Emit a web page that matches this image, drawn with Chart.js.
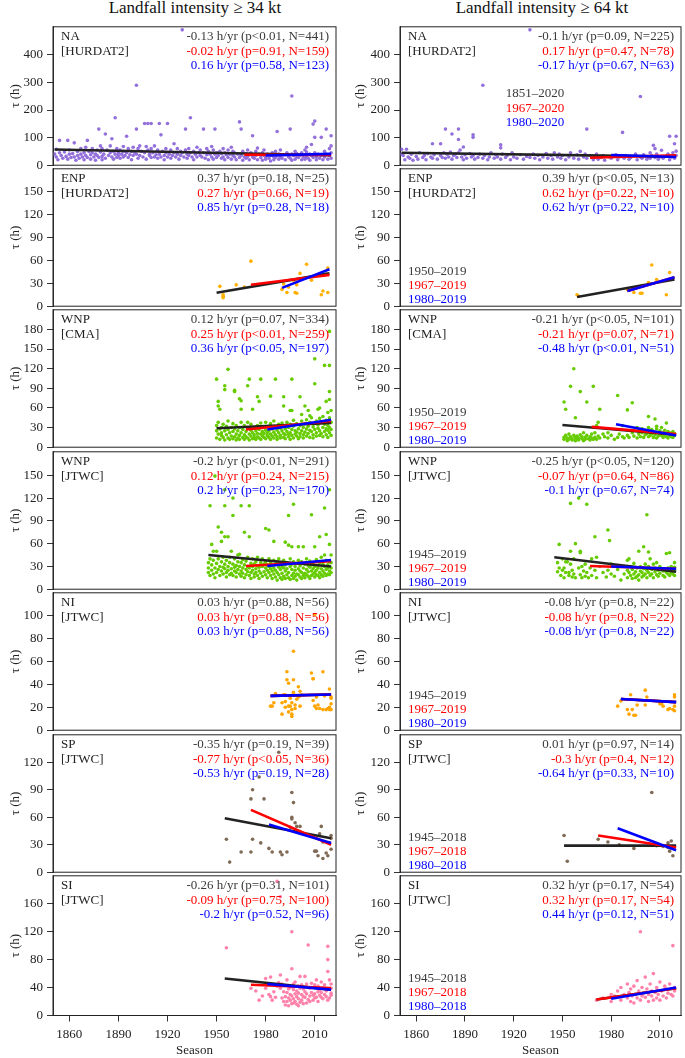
<!DOCTYPE html>
<html>
<head>
<meta charset="utf-8">
<script src="https://cdn.jsdelivr.net/npm/chart.js@4.4.0/dist/chart.umd.min.js"></script>
<style>
  body { margin: 0; background: #fff; width: 685px; height: 1058px; position: relative; overflow: hidden; font-family: "Liberation Serif", serif; }
  canvas { position: absolute; }
  .title { position: absolute; top: -1px; font-size: 17px; line-height: 17px; color: #111; text-align: center; }
</style>
</head>
<body>
<div class="title" style="left:53px;width:284px">Landfall intensity ≥ 34 kt</div>
<div class="title" style="left:400px;width:284px">Landfall intensity ≥ 64 kt</div>
<script>
// x axis
const xTicks = [1860, 1890, 1920, 1950, 1980, 2010];

// y tick labels per basin
const yTicksNA = [0, 100, 200, 300, 400];
const yTicksENP = [0, 30, 60, 90, 120, 150];
const yTicksCMA = [0, 30, 60, 90, 120, 150, 180];
const yTicksJTWC = [0, 30, 60, 90, 120, 150];
const yTicksNI = [0, 20, 40, 60, 80, 100];
const yTicksSP = [0, 30, 60, 90, 120];
const yTicksSI = [0, 40, 80, 120, 160];

// scatter values: [season, tau, tau, ...]
const na34 = [[1851,40],[1852,30,58],[1853,20],[1854,90,45],[1855,35],[1856,25],[1857,48],[1858,32],[1859,90,22],[1860,40,55],
  [1861,28],[1862,42],[1863,81,30],[1864,18],[1865,50,35],[1866,25],[1867,60,40],[1868,30],[1869,45,20],[1870,35,65],
  [1871,90,28],[1872,50],[1873,38,22],[1874,60,45],[1875,30],[1876,40,18],[1877,55,35],[1878,131,28],[1879,48,70],[1880,32,60,20],
  [1881,40],[1882,113,25],[1883,55],[1884,35],[1885,70,45],[1886,96,30],[1887,50,22],[1888,172,40],[1889,60,28],[1890,45,35],
  [1891,55,25],[1892,40],[1893,68,30,50],[1894,35],[1895,105,45],[1896,28,60],[1897,38],[1898,50,20],[1899,65,35],[1900,45],
  [1901,290,131,40],[1902,60,25],[1903,70,35],[1904,50],[1905,30],[1906,151,45],[1907,68,22],[1908,151,55],[1909,35,40],[1910,151,28,60],
  [1911,45],[1912,30,70],[1913,38],[1914,55,25],[1915,151,40],[1916,110,30],[1917,50],[1918,35,20],[1919,60,45],[1920,151,30],
  [1921,40],[1922,55,25],[1923,35],[1924,78,45],[1925,30],[1926,60,40],[1927,22],[1928,50,35],[1929,491,45],[1930,30],
  [1931,131,55],[1932,40,25],[1933,60,35],[1934,172,45],[1935,30],[1936,50,20],[1937,40],[1938,65,30],[1939,45],[1940,35,55],
  [1941,30],[1942,131,45],[1943,25],[1944,60,38],[1945,50,20],[1946,40],[1947,68,30],[1948,55,22],[1949,131,40],[1950,45,28],
  [1951,35],[1952,50],[1953,25,42],[1954,60,30],[1955,45,20],[1956,38],[1957,55,28],[1958,40],[1959,65,22],[1960,35,50],
  [1961,30,45],[1962,20],[1963,40],[1964,157,28],[1965,131,35],[1966,50,18],[1967,30],[1968,42,25],[1969,55,32],[1970,38,20],
  [1971,45],[1972,107,30],[1973,25],[1974,50,35],[1975,20,62],[1976,40],[1977,28],[1978,45,18],[1979,35,55],[1980,30,22],
  [1981,40],[1982,25],[1983,35,15],[1984,45],[1985,30,20],[1986,50,28],[1987,122,35],[1988,22,40],[1989,30,55],[1990,25],
  [1991,38],[1992,20],[1993,45],[1994,30],[1995,131,25],[1996,251,40,18],[1997,35],[1998,50,22],[1999,30,42],[2000,28],
  [2001,35],[2002,20,45],[2003,30],[2004,55,38,22],[2005,48,30,65],[2006,25],[2007,40,18],[2008,75,35],[2009,149,28],[2010,160,101,45],
  [2011,30,20],[2012,40],[2013,25],[2014,101,35],[2015,20],[2016,50,30],[2017,131,40],[2018,22],[2019,60,35],[2020,107,45,25,70]];
const na64 = [[1851,58,40],[1852,35],[1853,20],[1854,58],[1855,30],[1856,25],[1857,40],[1858,18],[1860,32],[1861,22],[1862,45],[1864,28],
  [1865,35],[1866,20],[1867,42],[1869,30],[1870,78,25],[1871,38],[1873,22],[1875,78,35],[1876,28],[1877,45],[1878,131,25],[1879,40],
  [1880,30],[1881,48],[1882,113,22],[1883,35],[1884,40],[1885,28],[1886,131,93,45],[1887,55],[1888,30],[1889,66,20],[1890,38],[1891,25],
  [1893,42],[1894,30],[1895,110,101,35],[1896,22],[1898,28],[1899,40],[1901,290,25],[1902,35],[1904,20],[1905,30],[1906,45],[1908,25],
  [1909,38],[1910,30],[1912,74,63,22],[1913,40],[1915,28],[1916,35],[1918,20],[1919,45],[1920,30],[1922,25],[1924,38],[1926,22],
  [1928,32],[1930,491,28],[1932,40],[1933,25],[1935,35],[1936,20],[1938,30],[1940,42],[1941,25],[1943,35],[1944,22],[1945,45],
  [1947,30],[1948,40],[1949,25],[1950,35],[1952,20],[1954,30],[1955,45],[1957,25],[1959,38],[1960,22],[1961,50],[1963,30],
  [1964,40],[1965,131,25],[1967,35],[1969,20],[1970,30],[1971,40],[1972,22],[1974,28],[1975,35],[1976,18],[1979,30],[1980,25],
  [1983,38],[1984,20],[1985,30],[1987,119],[1988,25],[1989,35],[1991,22],[1992,28],[1995,40],[1996,20],[1998,249,30],[1999,25],
  [2000,38],[2002,22],[2003,30],[2004,45,25],[2005,35],[2006,72],[2007,60,28],[2008,40],[2009,22],[2010,30],[2011,54],[2012,25],
  [2015,40],[2016,105,20],[2017,30],[2018,45],[2019,78,25],[2020,105,51,35]];
const enp34 = [[1952,26],[1954,15,13,11],[1962,28],[1967,25],[1971,59],[1990,22],[1991,29],[1993,18],[1994,25],[1997,34],[1998,18],
  [1999,17,28],[2001,43],[2005,55],[2008,34],[2010,40],[2014,15],[2015,20],[2017,42],[2018,18,50]];
const enp64 = [[1959,15],[1960,13],[1990,22],[1993,24],[1994,18],[1998,17],[1999,17,27],[2003,31],[2005,54],[2008,35],[2014,15],[2016,44]];
const cma34 = [[1950,14,25,33,104],[1951,20,38,70,63],[1952,12,28,58],[1953,18,30,22],[1954,15,35],[1955,25,11,94,88],[1956,19,32],
  [1957,14,27,40,119],[1958,22,12],[1959,17,30],[1960,24,13,36],[1961,16,28,85,87],[1962,20,11,33],[1963,14,25],[1964,18,30,12,74],
  [1965,22,38,71,58],[1966,15,27],[1967,19,12,33],[1968,24,16],[1969,14,29,38,94],[1970,20,11,104],[1971,17,26,35],[1972,13,22,58],
  [1973,19,30,15],[1974,25,12],[1975,16,33,21,77],[1976,14,27,70],[1977,20,37,12,104],[1978,17,24],[1979,15,30,21],[1980,13,26,38],
  [1981,18,22],[1982,15,32,25],[1983,20,12,36,78],[1984,17,28],[1985,14,23,40],[1986,19,31,104],[1987,16,26,12],[1988,22,35],
  [1989,18,14,29],[1990,25,37],[1991,15,21,33,77,63],[1992,19,28,13],[1993,24,38],[1994,16,30,20],[1995,22,12,35,56],[1996,18,27,104,56],
  [1997,14,32,41],[1998,20,25],[1999,17,36,23],[2000,28,13],[2001,21,33,16,77],[2002,25,40,50],[2003,19,30,14],[2004,23,36,63],
  [2005,17,28,42],[2006,21,32,56],[2007,15,26,38,48],[2008,24,45],[2009,19,31,14],[2010,27,36,135,97],[2011,22,17,40],[2012,29,34,58],
  [2013,18,25,44,60],[2014,21,38],[2015,16,30,47],[2016,24,35,125],[2017,19,28,41,70],[2018,26,33,15,53],[2019,22,30,45,125,177,85,73],
  [2020,18,27,38,56]];
const cma64 = [[1951,69,15,12],[1952,58,18],[1953,10,14],[1954,20,12],[1955,93,16],[1956,11,13],[1957,120,18],[1958,45,10,15],
  [1959,12,17],[1960,14,11],[1961,85,19],[1962,13,16],[1963,10,22],[1964,15,12],[1965,69,18],[1966,13],[1967,11,16],[1968,20,14],
  [1969,93,12],[1970,15,22],[1971,33,12],[1972,38,17],[1973,58,14],[1975,20],[1976,16],[1978,14,22],[1980,18],[1982,12],[1984,79,15],
  [1985,20],[1987,16,33],[1988,14],[1990,57,18],[1991,15],[1993,68,22],[1994,17],[1996,30,14],[1997,20,25],[1998,16],[1999,22,28],
  [2000,15],[2001,26,19],[2002,21],[2003,47,16,30],[2004,23,18],[2005,20,27],[2006,15,24],[2007,43,19],[2008,32,28,14],[2009,22,17],
  [2010,25,20],[2011,18,30],[2012,15,22],[2013,26,19],[2014,37,16,21],[2015,24,14],[2016,18,22],[2017,20,16],[2018,15,24],[2019,21,18]];
const jtwc34 = [[1945,22,35,28],[1946,110,40,18],[1947,59,25,32],[1948,50,20,38],[1949,149,28,15],[1950,50,34,22],[1951,82,26,40],
  [1952,18,30],[1953,75,63,24,36],[1954,20,42,29],[1955,131,110,69,27,33],[1956,22,38,16],[1957,69,30,25],[1958,19,35,42],[1959,50,27,21],
  [1960,120,97,33,18],[1961,24,40,29],[1962,16,31,22],[1963,36,26,45],[1964,46,20,30],[1965,110,17,35,24],[1966,28,39,21],[1967,75,15,32],
  [1968,26,37,19],[1969,23,30,42],[1970,110,69,18,28],[1971,34,22,14],[1972,25,40,30],[1973,20,33,16],[1974,27,36,22],[1975,18,31,42],
  [1976,24,29,14],[1977,35,21],[1978,30,17,40],[1979,23,33],[1980,80,19,28,36],[1981,25,15,32],[1982,78,30,22,40],[1983,18,27,35],
  [1984,24,14,31],[1985,63,20,38,28],[1986,16,33,25],[1987,22,12,36],[1988,29,19,40],[1989,15,26,34],[1990,21,13,30],[1991,28,17,38],
  [1992,62,14,24,32],[1993,19,35,27],[1994,97,58,15,22],[1995,30,13,40],[1996,56,18,26,33],[1997,112,14,21,36],[1998,25,17,30],
  [1999,20,12,34],[2000,56,27,19,38],[2001,16,24,31],[2002,22,14,36],[2003,56,28,18],[2004,33,21,15],[2005,26,40,19],[2006,17,31,23],
  [2007,29,14,37],[2008,98,24,18,32],[2009,20,35,27],[2010,56,16,30,22],[2011,25,39,19],[2012,31,18,28],[2013,69,22,35,15],
  [2014,27,19,42],[2015,33,24,17],[2016,107,21,30,45],[2017,72,26,18,38],[2018,32,20,28],[2019,131,59,24,36,19],[2020,45,28,22,35]];
const jtwc64 = [[1947,23,35],[1948,59,28],[1949,18],[1950,40,25],[1951,28,15],[1952,36,22],[1953,36],[1954,22,18],[1955,113,50,33],
  [1956,25,16],[1957,40,20],[1958,60,15],[1960,120,28],[1961,50,48,19],[1962,30,15],[1963,24],[1964,17,33],[1965,112,22],[1966,15],
  [1967,28],[1968,40,18],[1970,69,25],[1971,42,15],[1973,30],[1975,22],[1977,16],[1978,78,25],[1979,64],[1980,20,33],[1982,17],
  [1984,26],[1986,12,30],[1988,20],[1990,38,15,25],[1991,40,22],[1992,18,30],[1993,14,26],[1994,20,34],[1995,15,23],[1996,28,17],
  [1997,50,19,12],[1998,24,30],[1999,16,22],[2000,56,27,18],[2001,33,20],[2002,98,15,25],[2003,49,22,30],[2004,18,40],[2005,26,20],
  [2006,15,33],[2007,23,28],[2008,19,35],[2009,25,17],[2010,30,21],[2012,24,18],[2013,16,27],[2014,47,22],[2015,20,28],
  [2016,48,18,25],[2017,22,30],[2018,20,26],[2019,18,29,35,24]];
const ni34 = [[1983,21],[1984,21],[1985,24],[1986,32],[1990,24,14],[1991,31],[1992,25,20,31],[1993,51,44],[1994,41,16,21],[1995,21,28],
  [1996,24,18,14,12],[1997,69,33,32,44],[1998,19,22],[1999,27],[2000,38,29],[2001,30,34,21],[2002,31],[2008,50],[2009,45,45,26],
  [2010,21,101],[2011,19,29],[2012,22],[2013,19],[2015,51,18],[2016,30],[2017,18],[2018,19],[2019,18,36,20],[2020,29,28,18,23]];
const ni64 = [[1984,21],[1986,25.5],[1990,18],[1991,14],[1992,31],[1993,18],[1994,13],[1995,13],[1996,22],[2001,35,22],[2002,29],
  [2010,23],[2011,23],[2012,21],[2015,18],[2016,19],[2018,18],[2019,29,31,21,17]];
const sp34 = [[1956,36],[1958,11],[1965,22],[1971,22,80],[1972,90,36],[1976,104],[1977,32],[1979,80],[1982,26],[1984,22],[1988,131],
  [1989,22],[1990,19],[1993,22],[1995,49],[1996,58,60,87],[1997,76],[1998,54],[1999,50],[2001,50],[2010,23],[2011,23],[2012,18],
  [2013,42],[2014,50],[2015,33,15],[2017,21],[2018,18],[2019,32],[2020,37,25,40]];
const sp64 = [[1951,40],[1953,12],[1978,33],[1994,26],[2005,87],[2015,27,32],[2016,23],[2017,34],[2018,18],[1972,36],[1985,30],
  [2008,29],[2012,28]];
const si34 = [[1956,97],[1971,39],[1974,35],[1976,22],[1978,28],[1980,39,53],[1981,44],[1982,30],[1983,27,55],[1984,22],[1985,34],
  [1986,26],[1987,42,192],[1988,47],[1989,58,39,170],[1990,25,45],[1991,34,20],[1992,15,27],[1993,51,20,33],[1994,14,25,38],[1995,40,22,30],
  [1996,67,120,17,28],[1997,18,37,24,45],[1998,48,20,31],[1999,27,35,16],[2000,14,32,42,24],[2001,56,39,19],[2002,44,22,30],
  [2003,27,38,17],[2004,56,34,26],[2005,18,31,45],[2006,101,23],[2007,39,28,20],[2008,46,33],[2009,29,40,22],[2010,25,31,44],
  [2011,51,26],[2012,34,20,42],[2013,29,37],[2014,26,33,48],[2015,39,24],[2016,44,30],[2017,27,35],[2018,22,99,80,63],[2019,51,25],
  [2020,29,39,32,45]];
const si64 = [[1971,22],[1975,25],[1980,30,20],[1982,28],[1984,35],[1986,22,40],[1988,30],[1990,25,45],[1991,33],[1992,20,38],
  [1993,28],[1994,42,18],[1995,30],[1996,50,25],[1997,35],[1998,120,22],[1999,40,28],[2000,32],[2001,55,26],[2002,38],[2003,30,20],
  [2004,45],[2005,28,35],[2006,60,22],[2007,33],[2008,40,25],[2009,30],[2010,48,22],[2011,35],[2012,28],[2013,42],[2014,25,38],
  [2015,32],[2016,45],[2017,30],[2018,100,28],[2019,40,35]];

// trend lines: [startSeason, startTau, endSeason, endTau] for full / 1967 / 1980 periods
const na34Trend = [[1851,57,2020,36],[1967,38,2020,37],[1980,35,2020,41]];
const na64Trend = [[1851,45,2020,31],[1967,27,2020,36],[1980,37,2020,30]];
const enp34Trend = [[1950,17.5,2019,43],[1971,28,2019,41],[1990,24,2019,48.5]];
const enp64Trend = [[1959,12,2019,35],[1990,20,2019,38],[1990,20,2019,38]];
const cma34Trend = [[1950,29,2020,37],[1968,27,2020,40],[1981,27,2020,42]];
const cma64Trend = [[1950,34,2020,19],[1968,31,2020,20],[1983,35,2020,18]];
const jtwc34Trend = [[1945,45,2020,30],[1968,30.5,2020,37],[1981,30.5,2020,38.5]];
const jtwc64Trend = [[1945,42,2020,23],[1967,30.5,2020,27],[1980,30,2020,27]];
const ni34Trend = [[1983,30,2020,31.2],[1983,30,2020,31.2],[1983,30,2020,31.2]];
const ni64Trend = [[1986,27.2,2020,24.5],[1986,27.2,2020,24.5],[1986,27.2,2020,24.5]];
const sp34Trend = [[1955,59,2020,37],[1971,68,2020,30],[1982,52,2020,32]];
const sp64Trend = [[1951,29,2020,29],[1972,40,2020,27],[1984,48,2020,24]];
const si34Trend = [[1955,53,2020,37],[1971,44,2020,39.3],[1981,45,2020,37]];
const si64Trend = [[1971,23,2020,39],[1971,23,2020,39],[1980,24,2020,40]];

// annotation texts
const na34Stats = ['-0.13 h/yr (p<0.01, N=441)', '-0.02 h/yr (p=0.91, N=159)', '0.16 h/yr (p=0.58, N=123)'];
const na64Stats = ['-0.1 h/yr (p=0.09, N=225)', '0.17 h/yr (p=0.47, N=78)', '-0.17 h/yr (p=0.67, N=63)'];
const enp34Stats = ['0.37 h/yr (p=0.18, N=25)', '0.27 h/yr (p=0.66, N=19)', '0.85 h/yr (p=0.28, N=18)'];
const enp64Stats = ['0.39 h/yr (p<0.05, N=13)', '0.62 h/yr (p=0.22, N=10)', '0.62 h/yr (p=0.22, N=10)'];
const cma34Stats = ['0.12 h/yr (p=0.07, N=334)', '0.25 h/yr (p<0.01, N=259)', '0.36 h/yr (p<0.05, N=197)'];
const cma64Stats = ['-0.21 h/yr (p<0.05, N=101)', '-0.21 h/yr (p=0.07, N=71)', '-0.48 h/yr (p<0.01, N=51)'];
const jtwc34Stats = ['-0.2 h/yr (p<0.01, N=291)', '0.12 h/yr (p=0.24, N=215)', '0.2 h/yr (p=0.23, N=170)'];
const jtwc64Stats = ['-0.25 h/yr (p<0.05, N=120)', '-0.07 h/yr (p=0.64, N=86)', '-0.1 h/yr (p=0.67, N=74)'];
const ni34Stats = ['0.03 h/yr (p=0.88, N=56)', '0.03 h/yr (p=0.88, N=56)', '0.03 h/yr (p=0.88, N=56)'];
const ni64Stats = ['-0.08 h/yr (p=0.8, N=22)', '-0.08 h/yr (p=0.8, N=22)', '-0.08 h/yr (p=0.8, N=22)'];
const sp34Stats = ['-0.35 h/yr (p=0.19, N=39)', '-0.77 h/yr (p<0.05, N=36)', '-0.53 h/yr (p=0.19, N=28)'];
const sp64Stats = ['0.01 h/yr (p=0.97, N=14)', '-0.3 h/yr (p=0.4, N=12)', '-0.64 h/yr (p=0.33, N=10)'];
const si34Stats = ['-0.26 h/yr (p=0.31, N=101)', '-0.09 h/yr (p=0.75, N=100)', '-0.2 h/yr (p=0.52, N=96)'];
const si64Stats = ['0.32 h/yr (p=0.17, N=54)', '0.32 h/yr (p=0.17, N=54)', '0.44 h/yr (p=0.12, N=51)'];

const textCols = ['#3a3a3a', '#ff0000', '#0000ff'];
const lineCols = ['#222222', '#ff0000', '#0000ff'];

const rowTops = [25, 167, 308, 449.5, 591, 732.5, 874, 1015.5];

const panels = [
  { row: 0, col: 0, pts: na34, trend: na34Trend, yTicks: yTicksNA, ymax: 502, color: '#9370DB', region: 'NA', src: '[HURDAT2]', stats: na34Stats },
  { row: 0, col: 1, pts: na64, trend: na64Trend, yTicks: yTicksNA, ymax: 502, color: '#9370DB', region: 'NA', src: '[HURDAT2]', stats: na64Stats,
    periods: ['1851–2020', '1967–2020', '1980–2020'], periodsCenter: true },
  { row: 1, col: 0, pts: enp34, trend: enp34Trend, yTicks: yTicksENP, ymax: 180, color: '#FFB000', region: 'ENP', src: '[HURDAT2]', stats: enp34Stats },
  { row: 1, col: 1, pts: enp64, trend: enp64Trend, yTicks: yTicksENP, ymax: 180, color: '#FFB000', region: 'ENP', src: '[HURDAT2]', stats: enp64Stats,
    periods: ['1950–2019', '1967–2019', '1980–2019'] },
  { row: 2, col: 0, pts: cma34, trend: cma34Trend, yTicks: yTicksCMA, ymax: 210, color: '#66CC00', region: 'WNP', src: '[CMA]', stats: cma34Stats },
  { row: 2, col: 1, pts: cma64, trend: cma64Trend, yTicks: yTicksCMA, ymax: 210, color: '#66CC00', region: 'WNP', src: '[CMA]', stats: cma64Stats,
    periods: ['1950–2019', '1967–2019', '1980–2019'] },
  { row: 3, col: 0, pts: jtwc34, trend: jtwc34Trend, yTicks: yTicksJTWC, ymax: 181, color: '#66CC00', region: 'WNP', src: '[JTWC]', stats: jtwc34Stats },
  { row: 3, col: 1, pts: jtwc64, trend: jtwc64Trend, yTicks: yTicksJTWC, ymax: 181, color: '#66CC00', region: 'WNP', src: '[JTWC]', stats: jtwc64Stats,
    periods: ['1945–2019', '1967–2019', '1980–2019'] },
  { row: 4, col: 0, pts: ni34, trend: ni34Trend, yTicks: yTicksNI, ymax: 120, color: '#FFA500', region: 'NI', src: '[JTWC]', stats: ni34Stats },
  { row: 4, col: 1, pts: ni64, trend: ni64Trend, yTicks: yTicksNI, ymax: 120, color: '#FFA500', region: 'NI', src: '[JTWC]', stats: ni64Stats,
    periods: ['1945–2019', '1967–2019', '1980–2019'] },
  { row: 5, col: 0, pts: sp34, trend: sp34Trend, yTicks: yTicksSP, ymax: 150, color: '#7F6A55', region: 'SP', src: '[JTWC]', stats: sp34Stats },
  { row: 5, col: 1, pts: sp64, trend: sp64Trend, yTicks: yTicksSP, ymax: 150, color: '#7F6A55', region: 'SP', src: '[JTWC]', stats: sp64Stats,
    periods: ['1945–2018', '1967–2018', '1980–2018'] },
  { row: 6, col: 0, pts: si34, trend: si34Trend, yTicks: yTicksSI, ymax: 200, color: '#FF82AB', region: 'SI', src: '[JTWC]', stats: si34Stats },
  { row: 6, col: 1, pts: si64, trend: si64Trend, yTicks: yTicksSI, ymax: 200, color: '#FF82AB', region: 'SI', src: '[JTWC]', stats: si64Stats,
    periods: ['1945–2018', '1967–2018', '1980–2018'] }
];

const serif = '"Liberation Serif", "Times New Roman", serif';

// box around each panel plus the text inside it
const panelDeco = {
  id: 'panelDeco',
  afterDatasetsDraw(chart, args, o) {
    const ctx = chart.ctx, a = chart.chartArea;
    ctx.save();
    ctx.strokeStyle = '#222';
    ctx.lineWidth = 1;
    ctx.strokeRect(a.left, a.top, a.right - a.left, a.bottom - a.top);
    ctx.font = '13px ' + serif;
    ctx.textBaseline = 'middle';
    ctx.textAlign = 'left';
    ctx.fillStyle = '#222';
    ctx.fillText(o.region, a.left + 8, a.top + 10);
    ctx.fillText(o.src, a.left + 8, a.top + 24.5);
    ctx.textAlign = 'right';
    o.stats.forEach((s, i) => {
      ctx.fillStyle = textCols[i];
      ctx.fillText(s, a.right - 7, a.top + 10 + i * 14.3);
    });
    if (o.periods) {
      o.periods.forEach((s, i) => {
        ctx.fillStyle = textCols[i];
        if (o.periodsCenter) {
          ctx.textAlign = 'center';
          ctx.fillText(s, a.left + 135, a.top + 67 + i * 14.5);
        } else {
          ctx.textAlign = 'left';
          ctx.fillText(s, a.left + 8, a.top + 103 + i * 14);
        }
      });
    }
    ctx.restore();
  }
};

panels.forEach(p => {
  const bottomRow = p.row === 6;
  const top = rowTops[p.row], h = rowTops[p.row + 1] - top;
  const cvTop = top - 10;
  const cvH = bottomRow ? 1058 - cvTop : h + 20;
  const cvLeft = p.col === 0 ? 0 : 345;
  const yW = p.col === 0 ? 53 : 55;
  const padR = p.col === 0 ? 3 : 1;

  const cv = document.createElement('canvas');
  cv.width = 340;
  cv.height = cvH;
  cv.style.left = cvLeft + 'px';
  cv.style.top = cvTop + 'px';
  document.body.appendChild(cv);

  const pts = p.pts.flatMap(r => r.slice(1).map(v => ({ x: r[0], y: v })));
  const datasets = [{
    data: pts,
    pointRadius: 1.8,
    pointBorderWidth: 0,
    pointBackgroundColor: p.color,
    showLine: false,
    order: 4
  }];
  p.trend.forEach((t, i) => {
    datasets.push({
      data: [{ x: t[0], y: t[1] }, { x: t[2], y: t[3] }],
      showLine: true,
      pointRadius: 0,
      borderColor: lineCols[i],
      borderWidth: 2.6,
      order: 3 - i
    });
  });

  const xScale = {
    type: 'linear',
    min: 1850,
    max: 2023,
    display: bottomRow,
    afterBuildTicks: s => { s.ticks = xTicks.map(v => ({ value: v })); },
    ticks: { color: '#222', font: { family: serif, size: 13 }, padding: 5, maxRotation: 0, callback: v => String(v) },
    grid: { drawOnChartArea: false, drawTicks: true, tickLength: 6, color: '#333' },
    border: { display: true, color: '#333' },
    title: { display: true, text: 'Season', color: '#222', font: { family: serif, size: 13 }, padding: { top: 1, bottom: 0 } }
  };
  if (bottomRow) xScale.afterFit = s => { s.height = cvH - 10 - h; };

  new Chart(cv, {
    type: 'scatter',
    data: { datasets },
    options: {
      responsive: false,
      animation: false,
      events: [],
      layout: { padding: { top: 10, bottom: bottomRow ? 0 : 10, left: 0, right: padR } },
      plugins: {
        legend: { display: false },
        tooltip: { enabled: false },
        panelDeco: { region: p.region, src: p.src, stats: p.stats, periods: p.periods, periodsCenter: p.periodsCenter }
      },
      scales: {
        x: xScale,
        y: {
          min: 0,
          max: p.ymax,
          afterBuildTicks: s => { s.ticks = p.yTicks.map(v => ({ value: v })); },
          afterFit: s => { s.width = yW; },
          ticks: { color: '#222', font: { family: serif, size: 13 }, padding: 4 },
          grid: { drawOnChartArea: false, drawTicks: true, tickLength: 6, color: '#333' },
          border: { display: true, color: '#333' },
          title: { display: true, text: 'τ (h)', color: '#222', font: { family: serif, size: 13 }, padding: { top: 8, bottom: 0 } }
        }
      }
    },
    plugins: [panelDeco]
  });
});
</script>
</body>
</html>
